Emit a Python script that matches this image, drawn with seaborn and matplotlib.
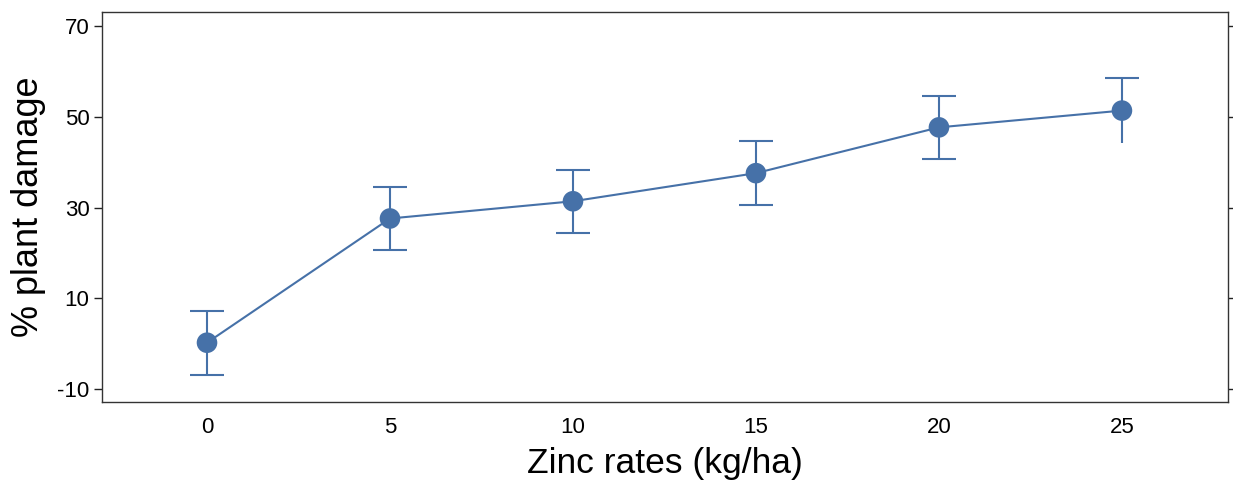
import matplotlib
matplotlib.use("Agg")
import matplotlib.pyplot as plt
import seaborn as sns
import pandas as pd

zinc_rates = [0, 5, 10, 15, 20, 25]
damage = [0.2, 27.6, 31.4, 37.6, 47.7, 51.4]
err = [7.1, 7.0, 7.0, 7.1, 7.0, 7.1]
lower_cap = [True, True, True, True, True, False]
yticks = [-10, 10, 30, 50, 70]

sns.set_theme(style="white")
plt.rcParams['font.family'] = ['Liberation Sans', 'DejaVu Sans']

color = "#4671a8"
df = pd.DataFrame({"zinc": zinc_rates, "damage": damage})

fig = plt.figure(figsize=(12.33, 4.88), dpi=100)
ax = fig.add_axes([0.0827, 0.176, 0.9133, 0.799])

sns.lineplot(data=df, x="zinc", y="damage", ax=ax, color=color, linewidth=1.5, zorder=2)
sns.scatterplot(data=df, x="zinc", y="damage", ax=ax, color=color, s=220, edgecolor="none", zorder=3)

lo = [d - e for d, e in zip(damage, err)]
hi = [d + e for d, e in zip(damage, err)]
ax.vlines(zinc_rates, lo, hi, color=color, linewidth=1.5, zorder=2)
capw = 0.47
ax.hlines(hi, [x - capw for x in zinc_rates], [x + capw for x in zinc_rates], color=color, linewidth=1.5)
ax.hlines([l for l, c in zip(lo, lower_cap) if c],
          [x - capw for x, c in zip(zinc_rates, lower_cap) if c],
          [x + capw for x, c in zip(zinc_rates, lower_cap) if c], color=color, linewidth=1.5)

ax.set_xlim(-2.87, 27.9)
ax.set_ylim(-12.9, 73.1)
ax.set_xticks(zinc_rates)
ax.set_xticklabels([str(z) for z in zinc_rates])
ax.set_yticks(yticks)
ax.set_yticklabels([str(t) for t in yticks])
ax.tick_params(axis="y", which="both", left=True, right=True, direction="out", length=6, width=1,
               color="#222222", labelsize=16, labelcolor="black", pad=3)
ax.tick_params(axis="x", bottom=False, labelsize=16, labelcolor="black", pad=5)
ax.set_xlabel("Zinc rates (kg/ha)", fontsize=25.5, labelpad=6, color="black")
ax.set_ylabel("% plant damage", fontsize=26, labelpad=8, color="black")
for s in ax.spines.values():
    s.set_visible(True)
    s.set_color("#333333")
    s.set_linewidth(1.0)

fig.savefig("out.png", dpi=100)
